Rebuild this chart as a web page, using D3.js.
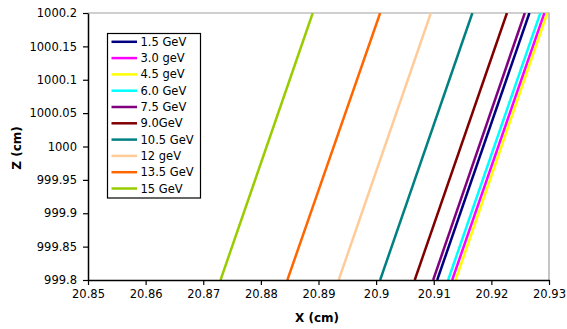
<!DOCTYPE html>
<html><head><meta charset="utf-8">
<script src="https://cdn.jsdelivr.net/npm/d3@7"></script>
<style>
html,body{margin:0;padding:0;background:#fff;}
svg{display:block;}
text{font-family:"DejaVu Sans",Verdana,sans-serif;}
</style></head>
<body><svg id="chart" width="567" height="329"></svg>
<script>
// Data
const seriesNames = ["1.5 GeV","3.0 geV","4.5 geV","6.0 GeV","7.5 GeV","9.0GeV","10.5 GeV","12 geV","13.5 GeV","15 GeV"];
const seriesColors = ["#000080","#ff00ff","#ffff00","#00ffff","#800080","#800000","#008080","#ffcc99","#ff6600","#99cc00"];
const zValues = [999.8, 1000.2];
const xStart = [20.9106, 20.9132, 20.9138, 20.9125, 20.9099, 20.9067, 20.9007, 20.8935, 20.8846, 20.8730];
const xEnd   = [20.9266, 20.9292, 20.9297, 20.9285, 20.9258, 20.9227, 20.9167, 20.9095, 20.9007, 20.8890];
const xTicks = [20.85,20.86,20.87,20.88,20.89,20.9,20.91,20.92,20.93];
const yTicks = [999.8,999.85,999.9,999.95,1000,1000.05,1000.1,1000.15,1000.2];

const svg = d3.select("#chart");
const L=88, R=549, T=13, B=280;
const x = d3.scaleLinear().domain([20.85,20.93]).range([L,R]);
const y = d3.scaleLinear().domain([999.8,1000.2]).range([B,T]);

// plot border (gray top/right)
svg.append("path").attr("d",`M${L},${T}H${R}V${B}`).attr("fill","none").attr("stroke","#a0a0a0").attr("stroke-width",1.2);

// clip
svg.append("clipPath").attr("id","clip").append("rect").attr("x",L).attr("y",T).attr("width",R-L).attr("height",B-T);

const line = d3.line().x(d=>x(d[0])).y(d=>y(d[1]));
const g = svg.append("g").attr("clip-path","url(#clip)");
seriesNames.forEach((n,i)=>{
  const pts = zValues.map((z,j)=>[j===0?xStart[i]:xEnd[i], z]);
  g.append("path").datum(pts).attr("d",line).attr("fill","none")
   .attr("stroke",seriesColors[i]).attr("stroke-width",2.5);
});

// axes
const fmt = d=>String(+d.toFixed(2));
const xAxis = svg.append("g").attr("transform",`translate(0,${B})`)
  .call(d3.axisBottom(x).tickValues(xTicks).tickFormat(fmt).tickSize(5).tickSizeOuter(0).tickPadding(5));
const yAxis = svg.append("g").attr("transform",`translate(${L},0)`)
  .call(d3.axisLeft(y).tickValues(yTicks).tickFormat(fmt).tickSize(5).tickSizeOuter(0).tickPadding(6));
[xAxis,yAxis].forEach(a=>{
  a.select(".domain").attr("stroke","#000").attr("stroke-width",1.5);
  a.selectAll(".tick line").attr("stroke","#000").attr("stroke-width",1.2);
  a.selectAll(".tick text").attr("font-size","11.5px").attr("fill","#000")
   .attr("font-family","'DejaVu Sans',Verdana,sans-serif");
});

// axis titles
svg.append("text").attr("x",317).attr("y",322).attr("text-anchor","middle")
  .attr("font-size","12px").attr("font-weight","bold").text("X (cm)");
svg.append("text").attr("transform","translate(21,148) rotate(-90)").attr("text-anchor","middle")
  .attr("font-size","12px").attr("font-weight","bold").text("Z (cm)");

// legend
const lg = svg.append("g");
lg.append("rect").attr("x",107.5).attr("y",33.5).attr("width",93).attr("height",164.5)
  .attr("fill","#fff").attr("stroke","#000").attr("stroke-width",1.2);
seriesNames.forEach((n,i)=>{
  const yy = 41.8 + i*16.3;
  lg.append("line").attr("x1",111.5).attr("x2",137).attr("y1",yy).attr("y2",yy)
    .attr("stroke",seriesColors[i]).attr("stroke-width",2.5);
  lg.append("text").attr("x",140.5).attr("y",yy).attr("dy","0.35em")
    .attr("font-size","11.5px").attr("fill","#000").text(n);
});
</script></body></html>
